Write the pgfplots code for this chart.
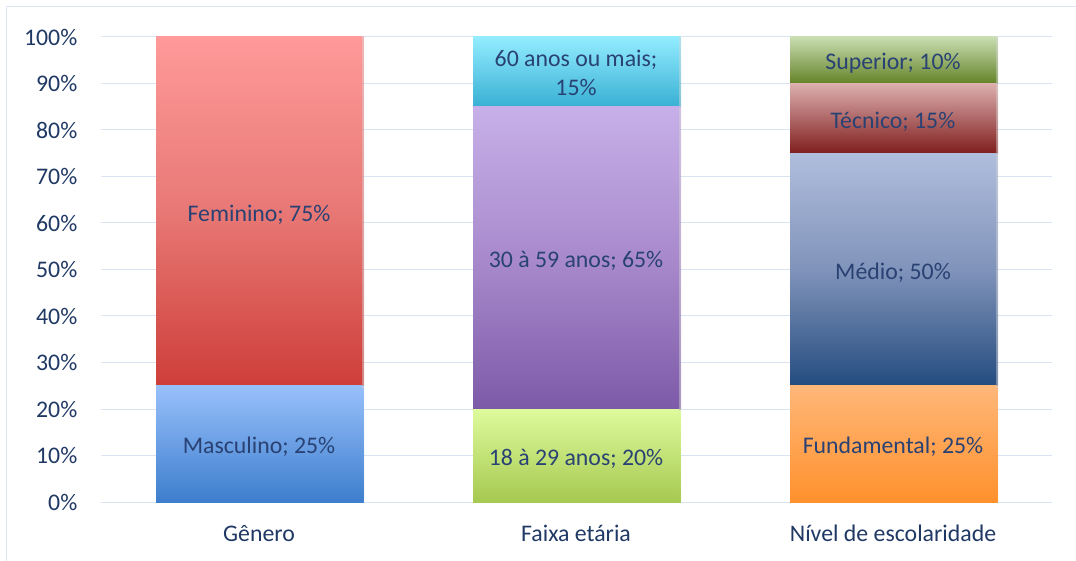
\documentclass[border=0pt]{standalone}
\usepackage{pgfplots}
\pgfplotsset{compat=1.18}
\usepackage{fontspec}
\setmainfont{Carlito}
\definecolor{txt}{RGB}{31,56,100}
\definecolor{lbl}{RGB}{41,66,115}
\definecolor{gridc}{RGB}{217,228,243}
\definecolor{framec}{RGB}{220,230,244}
\definecolor{shad}{RGB}{175,175,175}
\definecolor{mascT}{RGB}{152,192,251}\definecolor{mascB}{RGB}{61,126,205}
\definecolor{femT}{RGB}{254,154,153}\definecolor{femM}{RGB}{232,120,117}\definecolor{femB}{RGB}{206,62,57}
\definecolor{aT}{RGB}{222,251,157}\definecolor{aB}{RGB}{166,201,80}
\definecolor{bT}{RGB}{199,176,233}\definecolor{bM}{RGB}{168,138,204}\definecolor{bB}{RGB}{125,90,168}
\definecolor{cT}{RGB}{147,236,255}\definecolor{cB}{RGB}{56,176,212}
\definecolor{fT}{RGB}{255,183,121}\definecolor{fB}{RGB}{255,145,45}
\definecolor{mT}{RGB}{176,190,221}\definecolor{mM}{RGB}{128,147,186}\definecolor{mB}{RGB}{36,76,127}
\definecolor{tT}{RGB}{221,175,175}\definecolor{tB}{RGB}{128,30,30}
\definecolor{sT}{RGB}{201,221,177}\definecolor{sB}{RGB}{100,131,40}
\tikzset{lab/.style={font=\fontsize{23.8}{29}\selectfont, text=lbl, align=center, yshift=-3pt}}
\pgfplotsset{
  base/.style={
    scale only axis, width=951pt, height=465pt,
    at={(100.5pt,58pt)}, anchor=south west,
    xmin=-0.5, xmax=2.5, ymin=0, ymax=100,
    bar width=206pt,
    axis line style={draw=none},
    major tick length=0pt,
  },
  seg/.style n args={2}{draw=none, top color=#1, bottom color=#2,
    preaction={fill=shad, opacity=0.5, transform canvas={xshift=2pt}}},
  seg3/.style n args={3}{draw=none, top color=#1, bottom color=#3, middle color=#2,
    preaction={fill=shad, opacity=0.5, transform canvas={xshift=2pt}}},
  low/.style={preaction={fill=shad, transform canvas={xshift=1.5pt, yshift=-2.5pt}}},
}
\begin{document}
\begin{tikzpicture}
\useasboundingbox (0,0) rectangle (1076pt,560pt);
\draw[framec, line width=1pt] (6pt,-5pt) -- (6pt,553pt) -- (1080pt,553pt);
% axis with grid and labels: Genero
\begin{axis}[base, ybar stacked,
  ymajorgrids, grid style={gridc, line width=1pt},
  ytick={0,10,...,100},
  yticklabel={\pgfmathprintnumber[assume math mode=true]{\tick}\%},
  yticklabel style={font=\fontsize{23.8}{28}\selectfont, text=txt, inner sep=0pt, anchor=east, xshift=-23pt},
  xtick={0,1,2},
  xticklabels={Gênero, Faixa etária, Nível de escolaridade},
  xticklabel style={font=\fontsize{23.8}{28}\selectfont, text=txt, inner sep=0pt, anchor=base, yshift=-39pt},
]
\addplot[seg={mascT}{mascB}, low] coordinates {(0,25)};
\addplot[seg3={femT}{femM}{femB}] coordinates {(0,75)};
\end{axis}
% Faixa etaria
\begin{axis}[base, ybar stacked, hide axis]
\addplot[seg={aT}{aB}, low] coordinates {(1,20)};
\addplot[seg3={bT}{bM}{bB}] coordinates {(1,65)};
\addplot[seg={cT}{cB}] coordinates {(1,15)};
\end{axis}
% Nivel de escolaridade
\begin{axis}[base, ybar stacked, hide axis]
\addplot[seg={fT}{fB}, low] coordinates {(2,25)};
\addplot[seg3={mT}{mM}{mB}] coordinates {(2,50)};
\addplot[seg={tT}{tB}] coordinates {(2,15)};
\addplot[seg={sT}{sB}] coordinates {(2,10)};
\end{axis}
% labels
\begin{axis}[base, hide axis]
\node[lab] at (axis cs:0,12.5) {Masculino; 25\%};
\node[lab] at (axis cs:0,62.5) {Feminino; 75\%};
\node[lab] at (axis cs:1,10) {18 à 29 anos; 20\%};
\node[lab] at (axis cs:1,52.5) {30 à 59 anos; 65\%};
\node[lab, yshift=2pt] at (axis cs:1,92.5) {60 anos ou mais;\\15\%};
\node[lab] at (axis cs:2,12.5) {Fundamental; 25\%};
\node[lab] at (axis cs:2,50) {Médio; 50\%};
\node[lab] at (axis cs:2,82.5) {Técnico; 15\%};
\node[lab] at (axis cs:2,95) {Superior; 10\%};
\end{axis}
\end{tikzpicture}
\end{document}
